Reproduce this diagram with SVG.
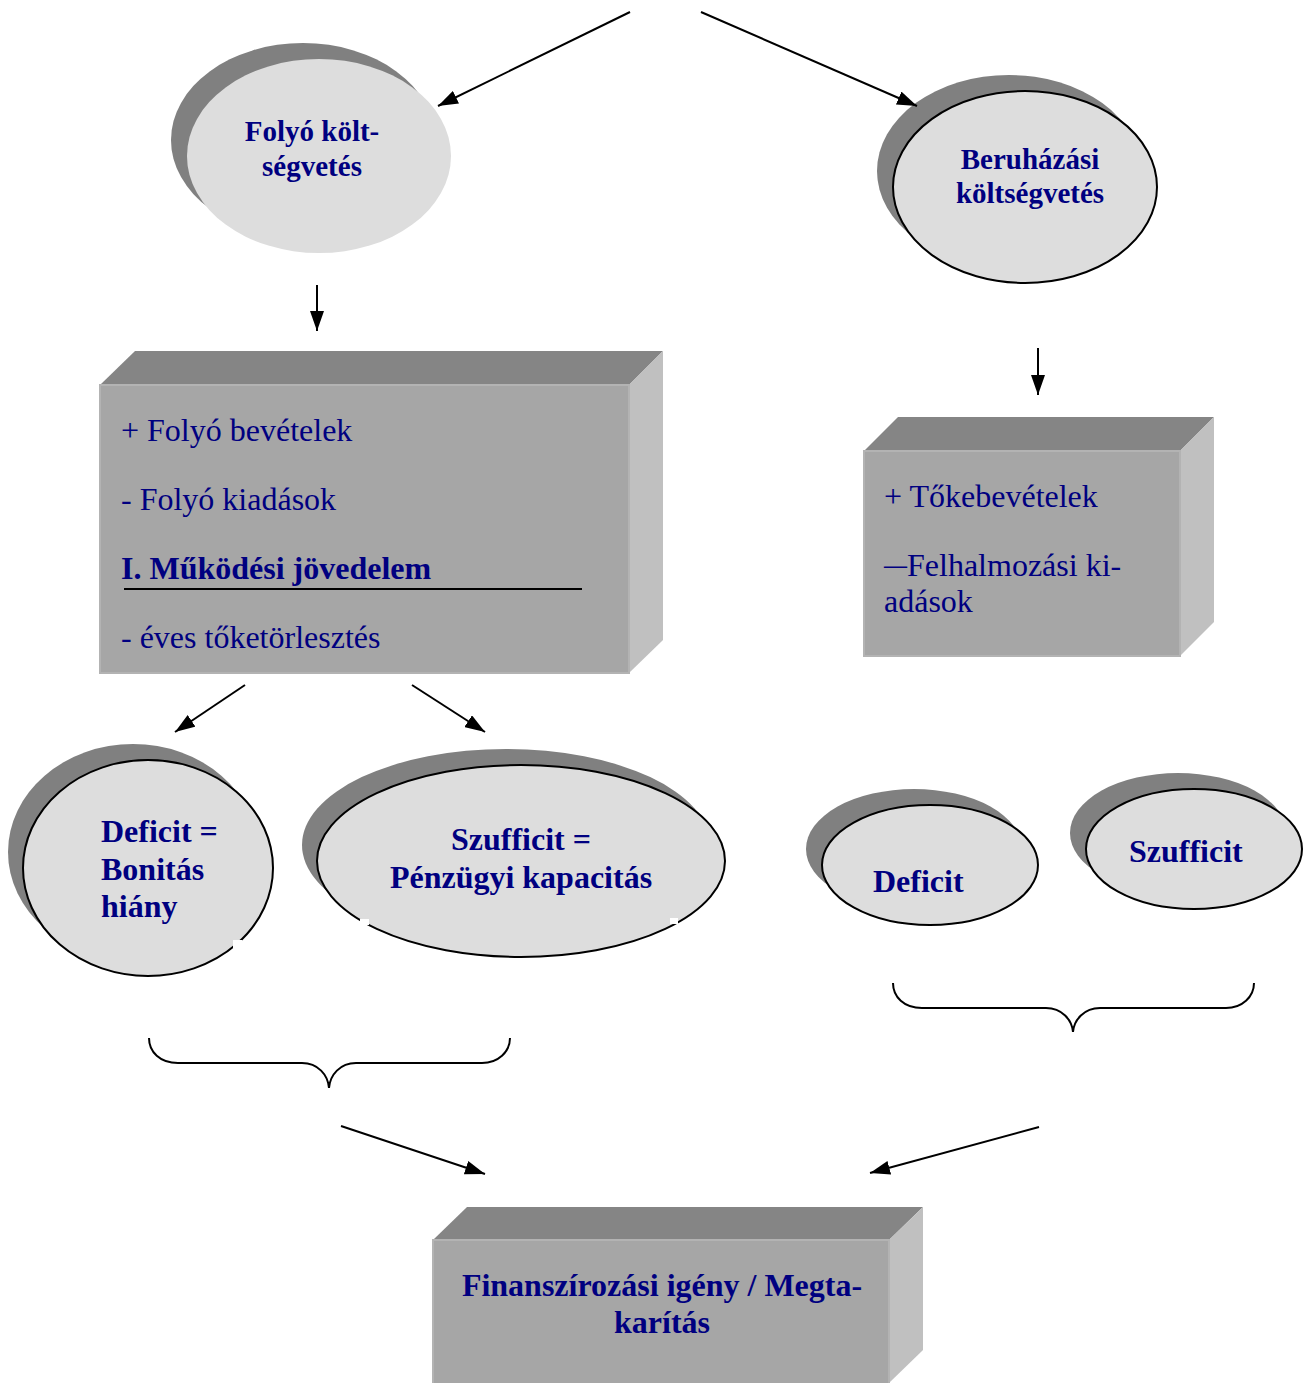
<svg xmlns="http://www.w3.org/2000/svg" width="1309" height="1383" viewBox="0 0 1309 1383">
<defs>
<marker id="ah" viewBox="0 0 20 14" refX="20" refY="7" markerWidth="20" markerHeight="14" markerUnits="userSpaceOnUse" orient="auto">
<path d="M0,0 L20,7 L0,14 Z" fill="#000"/>
</marker>
</defs>
<style>
.sh{fill:#808080}
.fr{fill:#dddddd}
.frs{fill:#dddddd;stroke:#000;stroke-width:2}
.top{fill:#858585}
.face{fill:#a6a6a6;stroke:#b3b3b3;stroke-width:2}
.side{fill:#c0c0c0}
.b{font-family:"Liberation Serif","Times New Roman",serif;font-weight:bold;fill:#000080}
.r{font-family:"Liberation Serif","Times New Roman",serif;fill:#000080;font-size:32px}
.ln{stroke:#000;stroke-width:2;fill:none}
.ar{stroke:#000;stroke-width:2;fill:none;marker-end:url(#ah)}
</style>
<rect width="1309" height="1383" fill="#fff"/>

<g id="folyo-koltsegvetes">
<ellipse class="sh" cx="303" cy="140" rx="132" ry="97"/>
<ellipse class="fr" cx="319" cy="156" rx="132" ry="97"/>
<text class="b" font-size="29" x="312" y="141" text-anchor="middle">Folyó költ-</text>
<text class="b" font-size="29" x="312" y="176" text-anchor="middle">ségvetés</text>
</g>

<g id="beruhazasi-koltsegvetes">
<ellipse class="sh" cx="1009" cy="171" rx="132" ry="96"/>
<ellipse class="frs" cx="1025" cy="187" rx="132" ry="96"/>
<text class="b" font-size="29" x="1030" y="169" text-anchor="middle">Beruházási</text>
<text class="b" font-size="29" x="1030" y="203" text-anchor="middle">költségvetés</text>
</g>

<g id="box-folyo">
<polygon class="top" points="100,385 135,351 663,351 629,385"/>
<polygon class="side" points="629,385 663,351 663,640 629,673"/>
<rect class="face" x="100" y="385" width="529" height="288"/>
<text class="r" x="121" y="441">+ Folyó bevételek</text>
<text class="r" x="121" y="510">- Folyó kiadások</text>
<text class="b" font-size="32" x="121" y="579">I. Működési jövedelem</text>
<line class="ln" x1="124" y1="589" x2="582" y2="589"/>
<text class="r" x="121" y="648">- éves tőketörlesztés</text>
</g>

<g id="box-beruhazasi">
<polygon class="top" points="864,451 898,417 1214,417 1180,451"/>
<polygon class="side" points="1180,451 1214,417 1214,622 1180,656"/>
<rect class="face" x="864" y="451" width="316" height="205"/>
<text class="r" x="884" y="507">+ Tőkebevételek</text>
<text class="r" x="884" y="576"><tspan font-size="23" font-weight="bold" dy="-3">—</tspan><tspan dy="3">Felhalmozási ki-</tspan></text>
<text class="r" x="884" y="612">adások</text>
</g>

<g id="deficit-bonitas">
<ellipse class="sh" cx="133" cy="852" rx="125" ry="108"/>
<ellipse class="frs" cx="148" cy="868" rx="125" ry="108"/>
<rect x="233" y="940" width="9" height="8" fill="#fff"/>
<text class="b" font-size="32" x="101" y="842">Deficit =</text>
<text class="b" font-size="32" x="101" y="880">Bonitás</text>
<text class="b" font-size="32" x="101" y="917">hiány</text>
</g>

<g id="szufficit-penzugyi">
<ellipse class="sh" cx="506" cy="845" rx="204" ry="96"/>
<ellipse class="frs" cx="521" cy="861" rx="204" ry="96"/>
<rect x="360" y="919" width="9" height="6" fill="#fff"/>
<rect x="670" y="918" width="8" height="6" fill="#fff"/>
<text class="b" font-size="32" x="521" y="850" text-anchor="middle">Szufficit =</text>
<text class="b" font-size="32" x="521" y="888" text-anchor="middle">Pénzügyi kapacitás</text>
</g>

<g id="deficit">
<ellipse class="sh" cx="914" cy="849" rx="108" ry="60"/>
<ellipse class="frs" cx="930" cy="865" rx="108" ry="60"/>
<text class="b" font-size="32" x="873" y="892">Deficit</text>
</g>

<g id="szufficit">
<ellipse class="sh" cx="1178" cy="833" rx="108" ry="60"/>
<ellipse class="frs" cx="1194" cy="849" rx="108" ry="60"/>
<text class="b" font-size="32" x="1129" y="862">Szufficit</text>
</g>

<g id="finanszirozasi-igeny">
<polygon class="top" points="433,1240 467,1207 923,1207 889,1240"/>
<polygon class="side" points="889,1240 923,1207 923,1350 889,1383"/>
<rect class="face" x="433" y="1240" width="456" height="150"/>
<text class="b" font-size="32" x="662" y="1296" text-anchor="middle">Finanszírozási igény / Megta-</text>
<text class="b" font-size="32" x="662" y="1333" text-anchor="middle">karítás</text>
</g>

<g id="connectors">
<line class="ar" x1="630" y1="12" x2="438" y2="106"/>
<line class="ar" x1="701" y1="12" x2="917" y2="106"/>
<line class="ar" x1="317" y1="285" x2="317" y2="331"/>
<line class="ar" x1="1038" y1="348" x2="1038" y2="395"/>
<line class="ar" x1="245" y1="685" x2="175" y2="732"/>
<line class="ar" x1="412" y1="685" x2="485" y2="732"/>
<path class="ln" d="M149,1038 C149,1052 160,1063 178,1063 L302,1063 C318,1063 328,1075 329,1088 C330,1075 340,1063 356,1063 L482,1063 C498,1063 510,1052 510,1038"/>
<path class="ln" d="M893,983 C893,997 904,1008 922,1008 L1046,1008 C1062,1008 1072,1020 1073,1032 C1074,1020 1084,1008 1100,1008 L1226,1008 C1242,1008 1254,997 1254,983"/>
<line class="ar" x1="341" y1="1126" x2="485" y2="1174"/>
<line class="ar" x1="1039" y1="1127" x2="870" y2="1173"/>
</g>
</svg>
